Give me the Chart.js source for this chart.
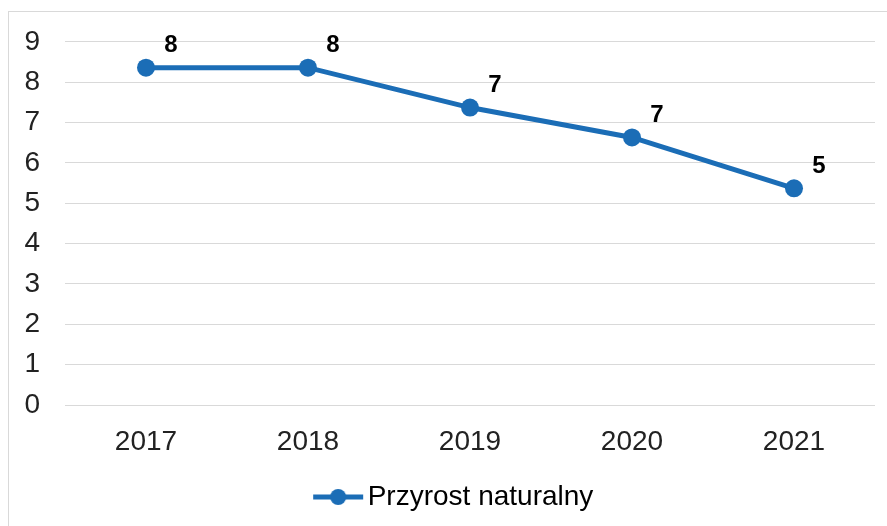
<!DOCTYPE html>
<html>
<head>
<meta charset="utf-8">
<script src="https://cdn.jsdelivr.net/npm/chart.js@4/dist/chart.umd.min.js"></script>
<style>
  html, body { margin: 0; padding: 0; background: #ffffff; }
  #frame {
    position: absolute; left: 8px; top: 11px; width: 900px; height: 600px;
    border: 1px solid #d9d9d9; box-sizing: border-box;
  }
  #wrap { position: absolute; left: 0; top: 0; width: 887px; height: 526px; }
</style>
</head>
<body>
<div id="frame"></div>
<div id="wrap"><canvas id="chart" width="887" height="526"></canvas></div>
<script>
// Data
const years = ['2017', '2018', '2019', '2020', '2021'];
const growth = [8.36, 8.36, 7.37, 6.63, 5.37];
const seriesName = 'Przyrost naturalny';
const yTicks = [0, 1, 2, 3, 4, 5, 6, 7, 8, 9];

const BLUE = '#1b6db6';
const FONT = "'Liberation Sans', Arial, sans-serif";

// Legend marker: line with a dot, left part of a wider transparent canvas
function legendMarker() {
  const c = document.createElement('canvas');
  c.width = 76; c.height = 20;
  const g = c.getContext('2d');
  g.strokeStyle = BLUE;
  g.lineWidth = 5;
  g.beginPath(); g.moveTo(1, 10); g.lineTo(51, 10); g.stroke();
  g.fillStyle = BLUE;
  g.beginPath(); g.arc(26, 10, 8, 0, Math.PI * 2); g.fill();
  return c;
}
const marker = legendMarker();

// Value labels drawn next to each point
const valueLabels = {
  id: 'valueLabels',
  afterDatasetsDraw(chart) {
    const ctx = chart.ctx;
    const meta = chart.getDatasetMeta(0);
    ctx.save();
    ctx.font = "bold 24px " + FONT;
    ctx.fillStyle = '#000000';
    ctx.textAlign = 'center';
    ctx.textBaseline = 'middle';
    meta.data.forEach((pt, i) => {
      ctx.fillText(String(Math.round(growth[i])), pt.x + 25, pt.y - 22);
    });
    ctx.restore();
  }
};

new Chart(document.getElementById('chart').getContext('2d'), {
  type: 'line',
  data: {
    labels: years,
    datasets: [{
      label: seriesName,
      data: growth,
      borderColor: BLUE,
      backgroundColor: BLUE,
      borderWidth: 5,
      pointRadius: 9,
      pointHoverRadius: 9,
      pointBackgroundColor: BLUE,
      pointBorderWidth: 0,
      tension: 0
    }]
  },
  options: {
    responsive: false,
    animation: false,
    layout: { padding: { left: 0, right: 12, top: 41, bottom: 5 } },
    plugins: {
      tooltip: { enabled: false },
      legend: {
        position: 'bottom',
        fullSize: false,
        labels: {
          usePointStyle: true,
          pointStyleWidth: 7,
          boxHeight: 20,
          padding: 10,
          color: '#222222',
          font: { family: FONT, size: 28 },
          generateLabels: (chart) => [{
            text: seriesName,
            pointStyle: marker,
            fillStyle: BLUE,
            strokeStyle: BLUE,
            lineWidth: 0,
            hidden: false,
            datasetIndex: 0
          }]
        }
      }
    },
    scales: {
      x: {
        offset: true,
        grid: { display: false },
        border: { display: false },
        ticks: { color: '#222222', padding: 12, font: { family: FONT, size: 28 } },
        afterFit: (s) => { s.height = 68; }
      },
      y: {
        min: 0,
        max: 9,
        afterBuildTicks: (s) => { s.ticks = yTicks.map(v => ({ value: v })); },
        grid: { color: '#d9d9d9', lineWidth: 1, drawTicks: false },
        border: { display: false },
        ticks: { color: '#222222', padding: 25, font: { family: FONT, size: 28 } },
        afterFit: (s) => { s.width = 65; }
      }
    }
  },
  plugins: [valueLabels]
});
</script>
</body>
</html>
